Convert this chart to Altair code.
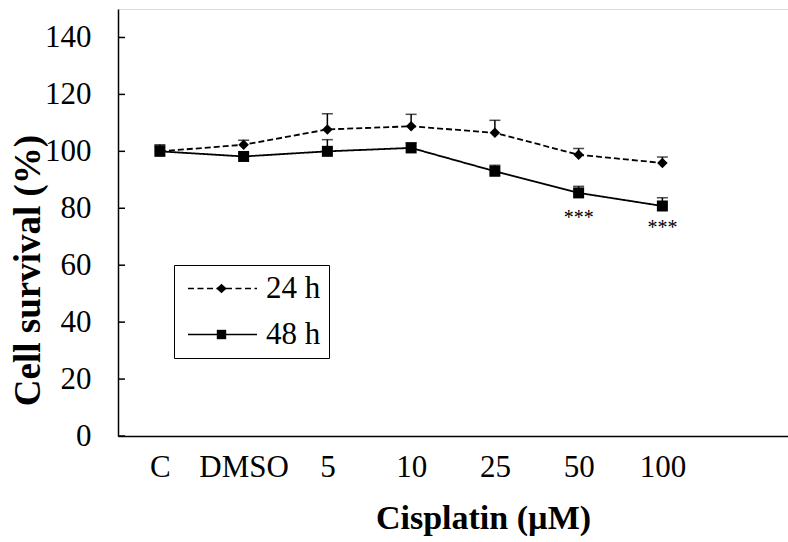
import altair as alt
import pandas as pd

# ---- data ----
categories = ["C", "DMSO", "5", "10", "25", "50", "100"]
mean_24h = [100.0, 102.3, 107.7, 108.8, 106.5, 98.8, 95.9]
err_24h = [2.0, 1.6, 5.5, 4.2, 4.4, 2.2, 2.1]
mean_48h = [100.0, 98.2, 100.0, 101.2, 93.0, 85.4, 80.8]
err_48h = [2.3, 1.2, 4.1, 1.8, 2.1, 2.3, 2.9]
series_names = ["24 h", "48 h"]
star_categories = ["50", "100"]
star_values = [76.6, 73.0]
star_labels = ["***", "***"]
y_ticks = [0, 20, 40, 60, 80, 100, 120, 140]

FONT = "Liberation Serif"

rows = []
for name, means, errs in [("24 h", mean_24h, err_24h), ("48 h", mean_48h, err_48h)]:
    for c, m, e in zip(categories, means, errs):
        rows.append({"dose": c, "series": name, "value": m, "upper": m + e})
df = pd.DataFrame(rows)
stars = pd.DataFrame({"dose": star_categories, "value": star_values, "label": star_labels})
ticks = pd.DataFrame({"t": y_ticks})
legend_df = pd.DataFrame({"key": series_names, "key_m": series_names, "dose": ["C", "C"], "value": [0, 0]})

x_domain = categories + [" "]
xs = alt.Scale(type="point", domain=x_domain, padding=0.5)
ys = alt.Scale(domain=[0, 150], nice=False, zero=True)

x_axis = alt.Axis(title="Cisplatin (µM)", labelAngle=0, ticks=False, tickSize=0,
                  labelFont=FONT, labelFontSize=31, labelColor="black", labelPadding=16,
                  titleFont=FONT, titleFontSize=34, titleFontWeight="bold", titleColor="black",
                  titleX=365, titleY=82, titleBaseline="middle", titleAlign="center",
                  domainColor="black", domainWidth=1.5, grid=False)
y_axis = alt.Axis(title="Cell survival (%)", values=y_ticks, ticks=False, tickSize=0,
                  labelFont=FONT, labelFontSize=31, labelColor="black", labelPadding=27,
                  titleFont=FONT, titleFontSize=37, titleFontWeight="bold", titleColor="black",
                  titleX=-90, titleY=261, titleAngle=270, titleBaseline="middle", titleAlign="center",
                  domainColor="black", domainWidth=1.5, grid=False)

base = alt.Chart(df)

lines = base.mark_line(color="black", strokeWidth=1.8).encode(
    x=alt.X("dose:N", scale=xs, axis=x_axis),
    y=alt.Y("value:Q", scale=ys, axis=y_axis),
    strokeDash=alt.StrokeDash("series:N", scale=alt.Scale(domain=series_names, range=[[6, 3], [1, 0]]), legend=None),
    detail="series:N",
)

err_rules = base.mark_rule(color="black", strokeWidth=1.5).encode(
    x=alt.X("dose:N", scale=xs), y=alt.Y("value:Q", scale=ys), y2="upper:Q"
)
err_caps = base.mark_tick(color="black", orient="horizontal", size=11, thickness=1.5).encode(
    x=alt.X("dose:N", scale=xs), y=alt.Y("upper:Q", scale=ys)
)

points = base.mark_point(filled=True, color="black", opacity=1).encode(
    x=alt.X("dose:N", scale=xs), y=alt.Y("value:Q", scale=ys),
    shape=alt.Shape("series:N", scale=alt.Scale(domain=series_names, range=["diamond", "square"]), legend=None),
    size=alt.Size("series:N", scale=alt.Scale(domain=series_names, range=[110, 121]), legend=None),
)

# ---- legend: a line legend with a marker legend laid exactly over it ----
SYM = 69.0  # legend symbol length in px
LEG = dict(title=None, orient="none", legendX=56, legendY=256, padding=8,
           symbolSize=SYM * SYM, symbolOffset=5, clipHeight=31, rowPadding=14,
           labelFont=FONT, labelFontSize=31, labelColor="black", labelOffset=8, labelLimit=200)

def u(px):
    return f"{px / (SYM / 2):.4f}"

diamond_path = f"M0,{u(-4.8)}L{u(5.2)},0L0,{u(4.8)}L{u(-5.2)},0Z"
square_path = f"M{u(-4.7)},{u(-4.7)}H{u(4.7)}V{u(4.7)}H{u(-4.7)}Z"

line_legend = alt.Chart(legend_df).transform_filter("false").mark_line(color="black", strokeWidth=1.5).encode(
    x=alt.X("dose:N", scale=xs), y=alt.Y("value:Q", scale=ys),
    strokeDash=alt.StrokeDash("key:N", scale=alt.Scale(domain=series_names, range=[[6, 3.5], [1, 0]]),
                              legend=alt.Legend(symbolType="stroke", symbolStrokeWidth=1.5,
                                                symbolStrokeColor="black",
                                                strokeColor="black", fillColor="white", **LEG)),
)

marker_legend = alt.Chart(legend_df).transform_filter("false").mark_point(filled=True, color="black").encode(
    x=alt.X("dose:N", scale=xs), y=alt.Y("value:Q", scale=ys),
    shape=alt.Shape("key_m:N", scale=alt.Scale(domain=series_names, range=[diamond_path, square_path]),
                    legend=alt.Legend(symbolFillColor="black", symbolStrokeWidth=0, symbolOpacity=1,
                                      labelExpr="''", **LEG)),
)

tick_marks = alt.Chart(ticks).mark_rule(color="black", strokeWidth=1.5).encode(
    y=alt.Y("t:Q", scale=ys), x=alt.value(0), x2=alt.value(7)
)

star_text = alt.Chart(stars).mark_text(font=FONT, fontSize=20, color="black", baseline="middle").encode(
    x=alt.X("dose:N", scale=xs), y=alt.Y("value:Q", scale=ys), text="label:N"
)

chart = alt.layer(tick_marks, lines, err_rules, err_caps, points, star_text, line_legend, marker_legend).resolve_scale(
    shape="independent", size="independent", strokeDash="independent"
).properties(
    width=670, height=427,
    autosize=alt.AutoSizeParams(type="none"),
    padding={"left": 118, "top": 9, "right": 0, "bottom": 106},
).configure_view(stroke=None).configure(background="white")

chart.save("out.html", embed_options={"renderer": "svg", "actions": False})
